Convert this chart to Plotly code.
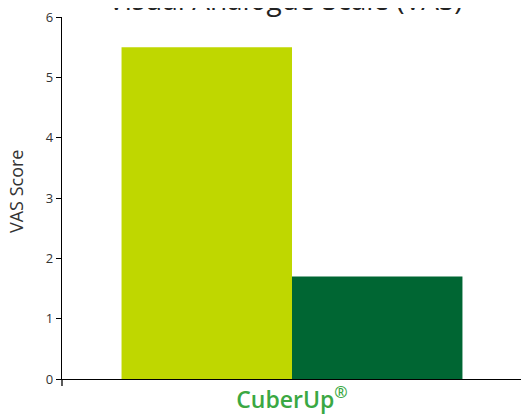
import plotly.graph_objects as go

categories = ["CuberUp"]
series_names = ["Group A", "Group B"]
series_values = [[5.5], [1.7]]
series_colors = ["#bfd700", "#006633"]
y_ticks = [0, 1, 2, 3, 4, 5, 6]

fig = go.Figure()
for name, vals, col in zip(series_names, series_values, series_colors):
    fig.add_trace(go.Bar(x=categories, y=vals, name=name, marker=dict(color=col, line=dict(width=0))))

fig.update_layout(
    width=529, height=415,
    margin=dict(l=54, r=8, t=9, b=44),
    barmode="group", bargap=0.27, bargroupgap=0,
    showlegend=False,
    plot_bgcolor="white", paper_bgcolor="white",
    font=dict(family="Open Sans", color="#333333"),
    annotations=[
        dict(text="Visual Analogue Scale (VAS)", xref="paper", yref="paper",
             x=0.479, y=1.0, yshift=18, xanchor="center", yanchor="middle",
             showarrow=False, font=dict(size=28, color="#222222", family="Open Sans")),
        dict(text="VAS Score", xref="paper", yref="paper", x=0, y=0.5166, xshift=-46,
             xanchor="center", yanchor="middle", textangle=-90, showarrow=False,
             font=dict(size=18, color="#333333", family="Open Sans")),
    ],
    shapes=[dict(type="line", xref="paper", yref="paper", x0=0, x1=0,
                 ysizemode="pixel", yanchor=0, y0=0, y1=-7,
                 line=dict(color="black", width=1.3))],
)
fig.update_xaxes(
    range=[-0.4925, 0.5075], showline=True, linecolor="black", linewidth=1.3,
    showgrid=False, ticks="", tickvals=categories, ticktext=["CuberUp<sup>®</sup>"],
    tickfont=dict(size=23, color="#3aa843", family="Open Sans", weight=600), fixedrange=True,
    ticklabeloverflow="allow",
)
fig.update_yaxes(
    range=[0, 6.001], tickvals=y_ticks, showline=True, linecolor="black", linewidth=1.3,
    ticks="outside", ticklen=5, tickcolor="black", tickwidth=1.3, showgrid=False, zeroline=False,
    ticksuffix="\u00a0\u00a0", automargin=False, ticklabeloverflow="allow",
    tickfont=dict(size=13, color="#333333"),
)
fig.write_html("out.html")
